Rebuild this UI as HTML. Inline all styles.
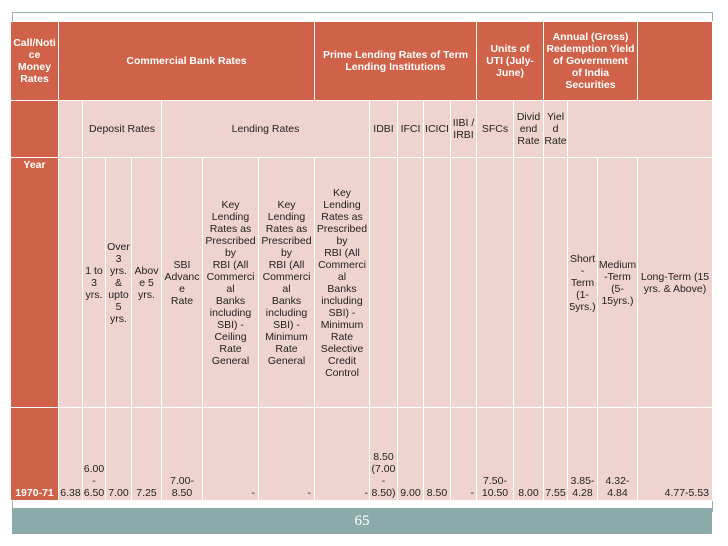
<!DOCTYPE html>
<html><head><meta charset="utf-8"><style>
body{margin:0;width:728px;height:546px;background:#fff;position:relative;overflow:hidden;font-family:"Liberation Sans",sans-serif;}
.c{position:absolute;box-sizing:border-box;border:1px solid #fff;display:flex;align-items:center;justify-content:center;text-align:center;font-size:10.5px;line-height:12px;color:#222;overflow:hidden;white-space:nowrap}
.o{background:#CF6249;color:#fff;font-weight:bold;font-size:10.5px}
.p{background:#EFD3CF;}
.b{align-items:flex-end;padding-bottom:1px;}
.t{align-items:flex-start;padding-top:1px;}
</style></head><body>
<div style="position:absolute;left:12px;top:12px;width:700px;height:1px;background:#9aaeae"></div>
<div style="position:absolute;left:12px;top:12px;width:1px;height:500px;background:#9aaeae"></div>
<div style="position:absolute;left:712px;top:12px;width:1px;height:500px;background:#9aaeae"></div>

<div class="c o" style="left:10px;top:21px;width:49px;height:80px">Call/Noti<br>ce<br>Money<br>Rates</div>
<div class="c o" style="left:58px;top:21px;width:257px;height:80px">Commercial Bank Rates</div>
<div class="c o" style="left:314px;top:21px;width:163px;height:80px">Prime Lending Rates of Term<br>Lending Institutions</div>
<div class="c o" style="left:476px;top:21px;width:68px;height:80px">Units of<br>UTI (July-<br>June)</div>
<div class="c o" style="left:543px;top:21px;width:95px;height:80px">Annual (Gross)<br>Redemption Yield<br>of Government<br>of India<br>Securities</div>
<div class="c o" style="left:637px;top:21px;width:76px;height:80px"></div>

<div class="c o" style="left:10px;top:100px;width:49px;height:58px"></div>
<div class="c p" style="left:58px;top:100px;width:25px;height:58px"></div>
<div class="c p" style="left:82px;top:100px;width:80px;height:58px">Deposit Rates</div>
<div class="c p" style="left:161px;top:100px;width:209px;height:58px">Lending Rates</div>
<div class="c p" style="left:369px;top:100px;width:29px;height:58px">IDBI</div>
<div class="c p" style="left:397px;top:100px;width:27px;height:58px">IFCI</div>
<div class="c p" style="left:423px;top:100px;width:28px;height:58px">ICICI</div>
<div class="c p" style="left:450px;top:100px;width:27px;height:58px">IIBI /<br>IRBI</div>
<div class="c p" style="left:476px;top:100px;width:38px;height:58px">SFCs</div>
<div class="c p" style="left:513px;top:100px;width:31px;height:58px">Divid<br>end<br>Rate</div>
<div class="c p" style="left:543px;top:100px;width:25px;height:58px">Yiel<br>d<br>Rate</div>
<div class="c p" style="left:567px;top:100px;width:146px;height:58px"></div>

<div class="c o t" style="left:10px;top:157px;width:49px;height:251px">Year</div>
<div class="c p" style="left:58px;top:157px;width:25px;height:251px"></div>
<div class="c p" style="left:82px;top:157px;width:24px;height:251px">1 to<br>3<br>yrs.</div>
<div class="c p" style="left:105px;top:157px;width:27px;height:251px">Over<br>3<br>yrs.<br>&amp;<br>upto<br>5<br>yrs.</div>
<div class="c p" style="left:131px;top:157px;width:31px;height:251px">Abov<br>e 5<br>yrs.</div>
<div class="c p" style="left:161px;top:157px;width:42px;height:251px">SBI<br>Advanc<br>e<br>Rate</div>
<div class="c p" style="left:202px;top:157px;width:57px;height:251px">Key<br>Lending<br>Rates as<br>Prescribed<br>by<br>RBI (All<br>Commerci<br>al<br>Banks<br>including<br>SBI) -<br>Ceiling<br>Rate<br>General</div>
<div class="c p" style="left:258px;top:157px;width:57px;height:251px">Key<br>Lending<br>Rates as<br>Prescribed<br>by<br>RBI (All<br>Commerci<br>al<br>Banks<br>including<br>SBI) -<br>Minimum<br>Rate<br>General</div>
<div class="c p" style="left:314px;top:157px;width:56px;height:251px">Key<br>Lending<br>Rates as<br>Prescribed<br>by<br>RBI (All<br>Commerci<br>al<br>Banks<br>including<br>SBI) -<br>Minimum<br>Rate<br>Selective<br>Credit<br>Control</div>
<div class="c p" style="left:369px;top:157px;width:29px;height:251px"></div>
<div class="c p" style="left:397px;top:157px;width:27px;height:251px"></div>
<div class="c p" style="left:423px;top:157px;width:28px;height:251px"></div>
<div class="c p" style="left:450px;top:157px;width:27px;height:251px"></div>
<div class="c p" style="left:476px;top:157px;width:38px;height:251px"></div>
<div class="c p" style="left:513px;top:157px;width:31px;height:251px"></div>
<div class="c p" style="left:543px;top:157px;width:25px;height:251px"></div>
<div class="c p" style="left:567px;top:157px;width:31px;height:251px">Short<br>-<br>Term<br>(1-<br>5yrs.)</div>
<div class="c p" style="left:597px;top:157px;width:41px;height:251px">Medium<br>-Term<br>(5-<br>15yrs.)</div>
<div class="c p" style="left:637px;top:157px;width:76px;height:251px">Long-Term (15<br>yrs. &amp; Above)</div>

<div class="c o b" style="left:10px;top:407px;width:49px;height:94px">1970-71</div>
<div class="c p b" style="left:58px;top:407px;width:25px;height:94px">6.38</div>
<div class="c p b" style="left:82px;top:407px;width:24px;height:94px">6.00<br>-<br>6.50</div>
<div class="c p b" style="left:105px;top:407px;width:27px;height:94px">7.00</div>
<div class="c p b" style="left:131px;top:407px;width:31px;height:94px">7.25</div>
<div class="c p b" style="left:161px;top:407px;width:42px;height:94px">7.00-<br>8.50</div>
<div class="c p b" style="left:202px;top:407px;width:57px;height:94px;justify-content:flex-end;padding-right:3px">-</div>
<div class="c p b" style="left:258px;top:407px;width:57px;height:94px;justify-content:flex-end;padding-right:3px">-</div>
<div class="c p b" style="left:314px;top:407px;width:56px;height:94px;justify-content:flex-end;padding-right:1px">-</div>
<div class="c p b" style="left:369px;top:407px;width:29px;height:94px">8.50<br>(7.00<br>-<br>8.50)</div>
<div class="c p b" style="left:397px;top:407px;width:27px;height:94px">9.00</div>
<div class="c p b" style="left:423px;top:407px;width:28px;height:94px">8.50</div>
<div class="c p b" style="left:450px;top:407px;width:27px;height:94px;justify-content:flex-end;padding-right:2px">-</div>
<div class="c p b" style="left:476px;top:407px;width:38px;height:94px">7.50-<br>10.50</div>
<div class="c p b" style="left:513px;top:407px;width:31px;height:94px">8.00</div>
<div class="c p b" style="left:543px;top:407px;width:25px;height:94px">7.55</div>
<div class="c p b" style="left:567px;top:407px;width:31px;height:94px">3.85-<br>4.28</div>
<div class="c p b" style="left:597px;top:407px;width:41px;height:94px">4.32-<br>4.84</div>
<div class="c p b" style="left:637px;top:407px;width:76px;height:94px;justify-content:flex-end;padding-right:3px">4.77-5.53</div>

<div style="position:absolute;left:12px;top:508px;width:700px;height:26px;background:#8BABAB;color:#fff;font-family:'Liberation Serif',serif;font-size:15px;line-height:26px;text-align:center">65</div>
</body></html>
